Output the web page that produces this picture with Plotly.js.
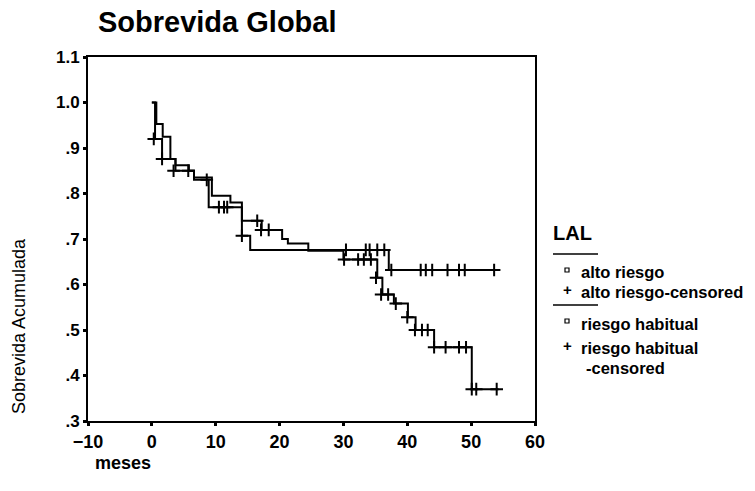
<!DOCTYPE html>
<html><head><meta charset="utf-8">
<script src="https://cdn.plot.ly/plotly-3.0.1.min.js"></script>
<style>body{margin:0;background:#fff}#c{width:755px;height:491px}</style>
</head><body><div id="c"></div>
<script>
// Step curve: riesgo habitual (ends at .37)
var habT = [0, 0.7, 1.7, 2.9, 3.7, 5.8, 6.6, 9.4, 12.3, 14.1, 17.2, 20.4, 21.3, 24.5, 30.0, 35.3, 36.1, 37.9, 40.1, 41.3, 44.2, 50.1, 54.3];
var habS = [1.0, 0.953, 0.925, 0.876, 0.862, 0.85, 0.835, 0.795, 0.78, 0.74, 0.72, 0.70, 0.69, 0.674, 0.655, 0.615, 0.578, 0.558, 0.528, 0.50, 0.462, 0.37, 0.37];
var habCT = [5.7, 16.5, 17.1, 18.3, 30.1, 32.3, 33.2, 34.3, 35.1, 35.9, 37.0, 38.2, 40.0, 41.2, 42.3, 43.2, 44.2, 46.0, 48.1, 49.2, 50.1, 50.8, 54.0];
var habCS = [0.85, 0.74, 0.72, 0.72, 0.655, 0.655, 0.655, 0.655, 0.615, 0.578, 0.578, 0.558, 0.528, 0.50, 0.50, 0.50, 0.462, 0.462, 0.462, 0.462, 0.37, 0.37, 0.37];
// Step curve: alto riesgo (ends at .63)
var altoT = [0, 0.5, 1.6, 3.7, 6.6, 8.9, 14.1, 15.4, 37.1, 54.0];
var altoS = [1.0, 0.92, 0.876, 0.85, 0.83, 0.77, 0.707, 0.676, 0.632, 0.632];
var altoCT = [0.3, 1.6, 3.4, 8.6, 10.5, 11.3, 11.8, 14.1, 30.4, 33.5, 34.1, 35.3, 36.4, 37.5, 42.1, 42.9, 43.9, 46.3, 48.1, 49.0, 53.6];
var altoCS = [0.92, 0.876, 0.85, 0.83, 0.77, 0.77, 0.77, 0.707, 0.676, 0.676, 0.676, 0.676, 0.676, 0.632, 0.632, 0.632, 0.632, 0.632, 0.632, 0.632, 0.632];
var yTickVals = [0.3, 0.4, 0.5, 0.6, 0.7, 0.8, 0.9, 1.0, 1.1];
var yTickText = ['.3', '.4', '.5', '.6', '.7', '.8', '.9', '1.0', '1.1'];
var chartTitle = 'Sobrevida Global';
var xTitle = 'meses';
var yTitle = 'Sobrevida Acumulada';
var legendTitle = 'LAL';
var legendItems = ['alto riesgo', 'alto riesgo-censored', 'riesgo habitual', 'riesgo habitual', '-censored'];

var F = 'Liberation Sans, Arial, sans-serif';
function stepTrace(x, y) {
  return {x: x, y: y, mode: 'lines', line: {shape: 'hv', color: '#000', width: 2}, showlegend: false, hoverinfo: 'skip'};
}
function censTrace(x, y) {
  return {x: x, y: y, mode: 'markers', marker: {symbol: 'cross-thin', size: 9, line: {color: '#000', width: 2}}, showlegend: false, hoverinfo: 'skip'};
}
var data = [stepTrace(habT, habS), censTrace(habCT, habCS), stepTrace(altoT, altoS), censTrace(altoCT, altoCS)];

var L = 88, R = 535, T = 57, B = 421;
function px(x) { return (x - L) / (R - L); }
function py(y) { return (B - y) / (B - T); }

var ann = [];
var bold = function (s) { return '<b>' + s + '</b>'; };
function addText(t, x, y, size, anchor, angle) {
  ann.push({text: t, x: px(x), y: py(y), xref: 'paper', yref: 'paper', xanchor: anchor || 'left', yanchor: 'middle',
    showarrow: false, textangle: angle || 0, font: {family: F, size: size, color: 'rgb(0,0,0)'}});
}
addText(bold(chartTitle), 96, 22, 29);
addText(bold(xTitle), 93, 463, 18);
addText('<span style="color:rgb(0,0,0)">' + yTitle + '</span>', 19, 326, 18, 'center', -90);
addText(bold(legendTitle), 551, 233, 20);
var rows = [272, 292, 324, 348, 368];
var tx = [579, 579, 579, 579, 584];
for (var i = 0; i < legendItems.length; i++) addText(bold(legendItems[i]), tx[i], rows[i], 16.5);
addText(bold('+'), 567, 289, 15, 'center');
addText(bold('+'), 567, 345, 15, 'center');

var shapes = [
  {type: 'line', xref: 'paper', yref: 'paper', x0: px(553), x1: px(598), y0: py(254), y1: py(254), line: {color: '#000', width: 1.5}},
  {type: 'line', xref: 'paper', yref: 'paper', x0: px(553), x1: px(598), y0: py(305), y1: py(305), line: {color: '#000', width: 1.5}},
  {type: 'rect', xref: 'paper', yref: 'paper', x0: px(565), x1: px(569), y0: py(268), y1: py(272), line: {color: '#000', width: 1.2}},
  {type: 'rect', xref: 'paper', yref: 'paper', x0: px(565), x1: px(569), y0: py(319), y1: py(323), line: {color: '#000', width: 1.2}}
];

var layout = {
  width: 755, height: 491,
  margin: {l: L, r: 755 - R, t: T, b: 491 - B},
  paper_bgcolor: '#fff', plot_bgcolor: '#fff',
  font: {family: F, color: '#000'},
  xaxis: {range: [-10, 60], dtick: 10, tick0: -10, showgrid: false, zeroline: false,
    showline: true, mirror: true, linecolor: '#000', linewidth: 2,
    ticks: 'outside', ticklen: 3, tickwidth: 3, tickcolor: '#000',
    tickfont: {family: F, size: 18, color: '#000', weight: 'bold'}},
  yaxis: {range: [0.3, 1.1], tickvals: yTickVals, ticktext: yTickText, showgrid: false, zeroline: false,
    showline: true, mirror: true, linecolor: '#000', linewidth: 2,
    ticks: 'outside', ticklen: 3, tickwidth: 3, tickcolor: '#000',
    tickfont: {family: F, size: 17, color: '#000', weight: 'bold'}},
  annotations: ann, shapes: shapes, showlegend: false
};
Plotly.newPlot('c', data, layout, {staticPlot: true});
</script></body></html>
